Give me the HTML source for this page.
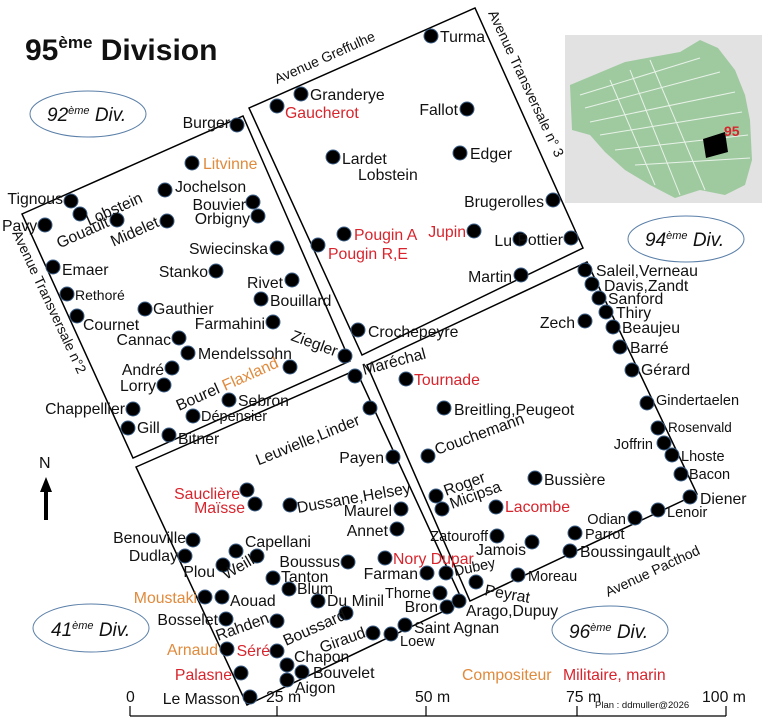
<!DOCTYPE html>
<html><head><meta charset="utf-8"><style>
html,body{margin:0;padding:0;background:#fff;}
svg{display:block;}
text{font-family:"Liberation Sans",Arial,sans-serif;font-size:15.8px;fill:#111;}
.r{fill:#d8242c;} .o{fill:#e08a3c;}
.e{text-anchor:end;}
circle.d{fill:#000;stroke:#3d5f86;stroke-width:1;}
</style></head><body>
<svg width="764" height="720" viewBox="0 0 764 720" xmlns="http://www.w3.org/2000/svg">
<rect width="764" height="720" fill="#fff"/>
<!-- title -->
<text x="25" y="60" style="font-size:30px;font-weight:bold;">95<tspan dy="-12" style="font-size:17px">ème</tspan><tspan dy="12"> Division</tspan></text>

<!-- map thumbnail -->
<g>
<rect x="565" y="35" width="197" height="168" fill="#e2e2e2"/>
<path d="M570 85 L625 62 L680 52 L700 40 L718 48 L735 70 L745 95 L750 120 L752 160 L745 185 L725 195 L700 190 L675 198 L650 185 L625 170 L605 152 L590 135 L572 130 Z" fill="#9fcaa0"/>
<path d="M580 95 L700 58 M585 108 L720 72 M590 122 L735 92 M600 135 L742 112 M615 150 L748 135 M635 165 L750 158 M650 60 L705 190 M630 70 L680 195 M610 80 L655 185" stroke="#e8f2e8" stroke-width="1" fill="none"/>
<polygon points="703,139 725,132 728,152 706,158" fill="#000"/>
<text x="724" y="136" style="font-size:14px;font-weight:bold;fill:#d8242c">95</text>
</g>

<!-- ellipses -->
<g fill="none" stroke="#5a7fa8" stroke-width="1">
<ellipse cx="88" cy="114" rx="58" ry="23"/>
<ellipse cx="686" cy="239" rx="58" ry="23"/>
<ellipse cx="91" cy="628" rx="58" ry="24"/>
<ellipse cx="610" cy="630" rx="58" ry="24"/>
</g>
<text x="47" y="121" style="font-size:19px;font-style:italic">92<tspan dy="-7" style="font-size:11px">ème</tspan><tspan dy="7"> Div.</tspan></text>
<text x="645" y="246" style="font-size:19px;font-style:italic">94<tspan dy="-7" style="font-size:11px">ème</tspan><tspan dy="7"> Div.</tspan></text>
<text x="51" y="636" style="font-size:19px;font-style:italic">41<tspan dy="-7" style="font-size:11px">ème</tspan><tspan dy="7"> Div.</tspan></text>
<text x="569" y="638" style="font-size:19px;font-style:italic">96<tspan dy="-7" style="font-size:11px">ème</tspan><tspan dy="7"> Div.</tspan></text>

<!-- blocks -->
<g fill="none" stroke="#000" stroke-width="1.5">
<polygon points="22,214 243,116 350,361 133,458"/>
<polygon points="249,108 475,8 583,248 362,355"/>
<polygon points="367,365 587,262 697,494 470,601"/>
<polygon points="136,467 356,370 463,602 247,705"/>
</g>

<!-- avenue labels -->
<text transform="translate(277,84) rotate(-24)" style="font-size:14px">Avenue Greffulhe</text>
<text transform="translate(488,13) rotate(65)" style="font-size:14px">Avenue Transversale n° 3</text>
<text transform="translate(12,233) rotate(65)" style="font-size:14px">Avenue Transversale n°2</text>
<text transform="translate(608,597) rotate(-25)" style="font-size:14px">Avenue Pacthod</text>

<!-- dots -->
<g>
<circle class="d" cx="237" cy="125" r="7"/><circle class="d" cx="192" cy="163" r="7"/><circle class="d" cx="165" cy="190" r="7"/>
<circle class="d" cx="71" cy="201" r="7"/><circle class="d" cx="80" cy="214" r="7"/><circle class="d" cx="253" cy="202" r="7"/>
<circle class="d" cx="258" cy="216" r="7"/><circle class="d" cx="45" cy="225" r="7"/><circle class="d" cx="117" cy="220" r="7"/>
<circle class="d" cx="167" cy="221" r="7"/><circle class="d" cx="277" cy="248" r="7"/><circle class="d" cx="53" cy="267" r="7"/>
<circle class="d" cx="216" cy="271" r="7"/><circle class="d" cx="292" cy="280" r="7"/><circle class="d" cx="67" cy="294" r="7"/>
<circle class="d" cx="261" cy="299" r="7"/><circle class="d" cx="145" cy="309" r="7"/><circle class="d" cx="77" cy="316" r="7"/>
<circle class="d" cx="273" cy="322" r="7"/><circle class="d" cx="179" cy="338" r="7"/><circle class="d" cx="345" cy="356" r="7"/>
<circle class="d" cx="188" cy="353" r="7"/><circle class="d" cx="290" cy="367" r="7"/><circle class="d" cx="172" cy="368" r="7"/>
<circle class="d" cx="164" cy="385" r="7"/><circle class="d" cx="229" cy="400" r="7"/><circle class="d" cx="133" cy="409" r="7"/>
<circle class="d" cx="193" cy="416" r="7"/><circle class="d" cx="128" cy="428" r="7"/><circle class="d" cx="169" cy="435" r="7"/>

<circle class="d" cx="431" cy="36" r="7"/><circle class="d" cx="301" cy="94" r="7"/><circle class="d" cx="277" cy="106" r="7"/>
<circle class="d" cx="467" cy="109" r="7"/><circle class="d" cx="333" cy="157" r="7"/><circle class="d" cx="460" cy="153" r="7"/>
<circle class="d" cx="553" cy="200" r="7"/><circle class="d" cx="344" cy="234" r="7"/><circle class="d" cx="318" cy="245" r="7"/>
<circle class="d" cx="474" cy="231" r="7"/><circle class="d" cx="520" cy="239" r="7"/><circle class="d" cx="571" cy="238" r="7"/>
<circle class="d" cx="521" cy="275" r="7"/><circle class="d" cx="358" cy="330" r="7"/>

<circle class="d" cx="585" cy="270" r="7"/><circle class="d" cx="592" cy="284" r="7"/><circle class="d" cx="599" cy="298" r="7"/>
<circle class="d" cx="606" cy="312" r="7"/><circle class="d" cx="613" cy="327" r="7"/><circle class="d" cx="620" cy="347" r="7"/>
<circle class="d" cx="585" cy="321" r="7"/><circle class="d" cx="632" cy="370" r="7"/><circle class="d" cx="647" cy="403" r="7"/>
<circle class="d" cx="658" cy="428" r="7"/><circle class="d" cx="664" cy="443" r="7"/><circle class="d" cx="672" cy="455" r="7"/>
<circle class="d" cx="681" cy="474" r="7"/><circle class="d" cx="690" cy="497" r="7"/><circle class="d" cx="658" cy="510" r="7"/>
<circle class="d" cx="635" cy="518" r="7"/><circle class="d" cx="575" cy="533" r="7"/><circle class="d" cx="570" cy="551" r="7"/>
<circle class="d" cx="532" cy="542" r="7"/><circle class="d" cx="497" cy="536" r="7"/><circle class="d" cx="518" cy="575" r="7"/>
<circle class="d" cx="476" cy="582" r="7"/><circle class="d" cx="446" cy="573" r="7"/><circle class="d" cx="496" cy="507" r="7"/>
<circle class="d" cx="535" cy="478" r="7"/><circle class="d" cx="436" cy="496" r="7"/><circle class="d" cx="442" cy="509" r="7"/>
<circle class="d" cx="428" cy="456" r="7"/><circle class="d" cx="444" cy="408" r="7"/><circle class="d" cx="406" cy="379" r="7"/>
<circle class="d" cx="355" cy="376" r="7"/><circle class="d" cx="370" cy="408" r="7"/>

<circle class="d" cx="393" cy="457" r="7"/><circle class="d" cx="247" cy="490" r="7"/><circle class="d" cx="255" cy="504" r="7"/>
<circle class="d" cx="290" cy="505" r="7"/><circle class="d" cx="401" cy="509" r="7"/><circle class="d" cx="397" cy="529" r="7"/>
<circle class="d" cx="193" cy="540" r="7"/><circle class="d" cx="185" cy="556" r="7"/><circle class="d" cx="236" cy="551" r="7"/>
<circle class="d" cx="257" cy="556" r="7"/><circle class="d" cx="223" cy="565" r="7"/><circle class="d" cx="348" cy="562" r="7"/>
<circle class="d" cx="385" cy="558" r="7"/><circle class="d" cx="273" cy="578" r="7"/><circle class="d" cx="289" cy="589" r="7"/>
<circle class="d" cx="427" cy="573" r="7"/><circle class="d" cx="440" cy="593" r="7"/><circle class="d" cx="447" cy="607" r="7"/>
<circle class="d" cx="459" cy="601" r="7"/><circle class="d" cx="205" cy="597" r="7"/><circle class="d" cx="222" cy="597" r="7"/>
<circle class="d" cx="318" cy="601" r="7"/><circle class="d" cx="226" cy="619" r="7"/><circle class="d" cx="277" cy="621" r="7"/>
<circle class="d" cx="346" cy="613" r="7"/><circle class="d" cx="373" cy="633" r="7"/><circle class="d" cx="391" cy="634" r="7"/>
<circle class="d" cx="405" cy="625" r="7"/><circle class="d" cx="227" cy="649" r="7"/><circle class="d" cx="277" cy="651" r="7"/>
<circle class="d" cx="287" cy="665" r="7"/><circle class="d" cx="302" cy="672" r="7"/><circle class="d" cx="241" cy="673" r="7"/>
<circle class="d" cx="287" cy="680" r="7"/><circle class="d" cx="250" cy="697" r="7"/>
</g>

<!-- left block labels -->
<text class="e" x="230" y="128">Burger</text>
<text class="o" x="203" y="169">Litvinne</text>
<text x="175" y="192">Jochelson</text>
<text class="e" x="63" y="204">Tignous</text>
<text transform="translate(89,226) rotate(-24)">Lobstein</text>
<text class="e" x="246" y="210">Bouvier</text>
<text class="e" x="250" y="224">Orbigny</text>
<text x="2" y="231">Pavy</text>
<text class="e" transform="translate(110,226) rotate(-24)">Gouault</text>
<text class="e" transform="translate(160,226) rotate(-24)">Midelet</text>
<text class="e" x="268" y="254">Swiecinska</text>
<text x="62" y="275">Emaer</text>
<text class="e" x="208" y="277">Stanko</text>
<text class="e" x="283" y="288">Rivet</text>
<text x="75" y="300" style="font-size:14px">Rethoré</text>
<text x="270" y="306">Bouillard</text>
<text x="153" y="314">Gauthier</text>
<text x="83" y="330">Cournet</text>
<text class="e" x="265" y="329">Farmahini</text>
<text class="e" x="171" y="345">Cannac</text>
<text transform="translate(290,340) rotate(20)">Ziegler</text>
<text x="198" y="359">Mendelssohn</text>
<text class="o" transform="translate(225,391) rotate(-24)">Flaxland</text>
<text class="e" x="164" y="375">André</text>
<text class="e" x="156" y="391">Lorry</text>
<text transform="translate(179,411) rotate(-24)">Bourel</text>
<text x="238" y="406">Sebron</text>
<text class="e" x="125" y="414">Chappellier</text>
<text x="201" y="421" style="font-size:14.5px">Dépensier</text>
<text x="137" y="433">Gill</text>
<text x="178" y="444">Bitner</text>

<!-- top block labels -->
<text x="440" y="42">Turma</text>
<text x="310" y="100">Granderye</text>
<text class="r" x="285" y="118">Gaucherot</text>
<text class="e" x="458" y="115">Fallot</text>
<text x="342" y="164">Lardet</text>
<text x="358" y="180">Lobstein</text>
<text x="470" y="159">Edger</text>
<text class="e" x="544" y="207">Brugerolles</text>
<text class="r" x="354" y="240">Pougin A</text>
<text class="r" x="328" y="259">Pougin R,E</text>
<text class="r e" x="466" y="237">Jupin</text>
<text class="e" x="512" y="246">Lu</text>
<text class="e" x="563" y="245">Pottier</text>
<text class="e" x="512" y="282">Martin</text>
<text x="368" y="337">Crochepeyre</text>

<!-- right block labels -->
<text x="596" y="276">Saleil,Verneau</text>
<text x="604" y="291">Davis,Zandt</text>
<text x="608" y="304">Sanford</text>
<text x="616" y="318">Thiry</text>
<text x="622" y="333">Beaujeu</text>
<text x="630" y="353">Barré</text>
<text class="e" x="575" y="328">Zech</text>
<text x="641" y="375">Gérard</text>
<text x="656" y="405" style="font-size:14.5px">Gindertaelen</text>
<text x="668" y="432" style="font-size:13.5px">Rosenvald</text>
<text class="e" x="653" y="449" style="font-size:14.5px">Joffrin</text>
<text x="681" y="461" style="font-size:14.5px">Lhoste</text>
<text x="689" y="479" style="font-size:14.5px">Bacon</text>
<text x="700" y="504">Diener</text>
<text x="667" y="517" style="font-size:14.5px">Lenoir</text>
<text class="e" x="626" y="524" style="font-size:14.5px">Odian</text>
<text x="585" y="539" style="font-size:14.5px">Parrot</text>
<text x="580" y="557">Boussingault</text>
<text class="e" x="526" y="555">Jamois</text>
<text class="e" x="488" y="541" style="font-size:14.5px">Zatouroff</text>
<text x="528" y="581" style="font-size:14.5px">Moreau</text>
<text transform="translate(484,595) rotate(10)">Peyrat</text>
<text transform="translate(455,576) rotate(-12)" style="font-size:14.5px">Dubey</text>
<text class="r" x="505" y="512">Lacombe</text>
<text x="544" y="485">Bussière</text>
<text transform="translate(446,496) rotate(-20)">Roger</text>
<text transform="translate(452,509) rotate(-20)">Micipsa</text>
<text transform="translate(437,455) rotate(-20)">Couchemann</text>
<text x="454" y="415">Breitling,Peugeot</text>
<text class="r" x="414" y="385">Tournade</text>
<text transform="translate(364,375) rotate(-15)">Maréchal</text>
<text class="e" transform="translate(361,424) rotate(-22)">Leuvielle,Linder</text>

<!-- bottom-left block labels -->
<text class="e" x="384" y="463">Payen</text>
<text class="r e" x="240" y="499">Sauclière</text>
<text class="r e" x="245" y="513">Maïsse</text>
<text transform="translate(298,513) rotate(-10)">Dussane,Helsey</text>
<text class="e" x="392" y="516">Maurel</text>
<text class="e" x="388" y="536">Annet</text>
<text class="e" x="186" y="543">Benouville</text>
<text class="e" x="178" y="561">Dudlay</text>
<text x="245" y="547">Capellani</text>
<text transform="translate(226,580) rotate(-30)">Weill</text>
<text class="e" x="215" y="577">Plou</text>
<text class="e" x="340" y="567">Boussus</text>
<text class="r" x="393" y="564">Nory Dupar</text>
<text x="281" y="582">Tanton</text>
<text x="297" y="594">Blum</text>
<text class="e" x="418" y="579">Farman</text>
<text class="e" x="431" y="598" style="font-size:14.5px">Thorne</text>
<text class="e" x="438" y="612">Bron</text>
<text x="466" y="616">Arago,Dupuy</text>
<text class="o e" x="197" y="603">Moustaki</text>
<text x="230" y="606">Aouad</text>
<text x="327" y="606">Du Minil</text>
<text class="e" x="218" y="625">Bosselet</text>
<text transform="translate(218,641) rotate(-20)">Rahden</text>
<text transform="translate(286,646) rotate(-24)">Boussard</text>
<text transform="translate(322,653) rotate(-20)">Giraud</text>
<text x="400" y="646" style="font-size:14.5px">Loew</text>
<text x="414" y="633">Saint Agnan</text>
<text class="o e" x="218" y="655">Arnaud</text>
<text class="r e" x="270" y="656">Séré</text>
<text x="294" y="662">Chapon</text>
<text x="313" y="678">Bouvelet</text>
<text class="r e" x="232" y="680">Palasne</text>
<text x="295" y="693">Aigon</text>
<text class="e" x="240" y="704">Le Masson</text>

<!-- legend -->
<text class="o" x="462" y="680">Compositeur</text>
<text class="r" x="563" y="680">Militaire, marin</text>

<!-- north arrow -->
<text x="39" y="468" style="font-size:16px">N</text>
<polygon points="46,477 40,492 44,492 44,520 48,520 48,492 52,492" fill="#000"/>

<!-- scale -->
<g stroke="#000" stroke-width="1.2" fill="none">
<line x1="130" y1="716" x2="726" y2="716"/>
<line x1="130" y1="706" x2="130" y2="716"/>
<line x1="277" y1="706" x2="277" y2="716"/>
<line x1="426" y1="706" x2="426" y2="716"/>
<line x1="577" y1="706" x2="577" y2="716"/>
<line x1="726" y1="706" x2="726" y2="716"/>
</g>
<text x="126" y="702">0</text>
<text x="266" y="702">25 m</text>
<text x="415" y="702">50 m</text>
<text x="566" y="702">75 m</text>
<text x="702" y="702">100 m</text>
<text x="595" y="708" style="font-size:9.5px">Plan : ddmuller@2026</text>
</svg>
</body></html>
